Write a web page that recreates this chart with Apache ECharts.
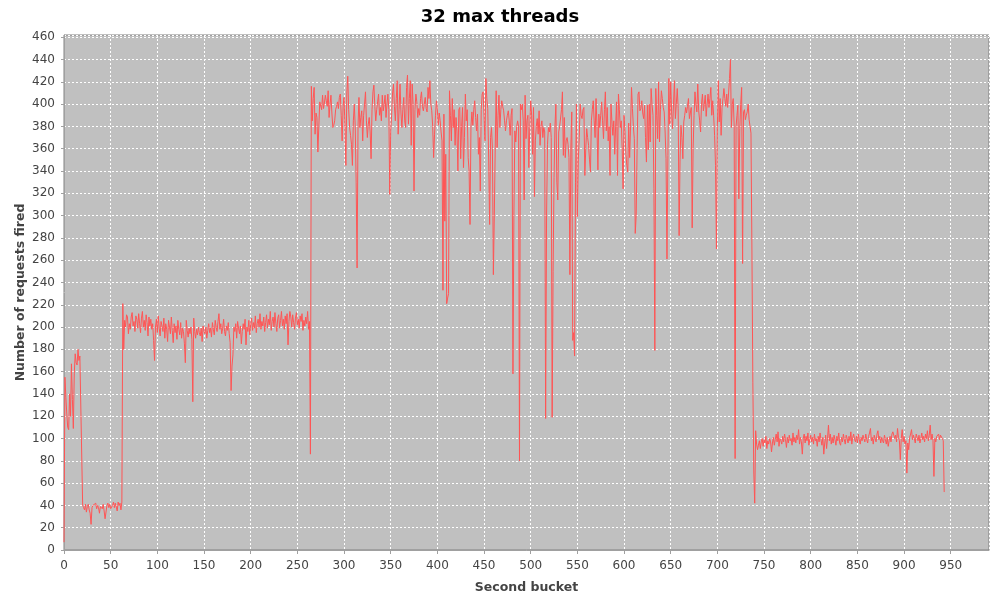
<!DOCTYPE html>
<html><head><meta charset="utf-8">
<script src="https://cdn.jsdelivr.net/npm/echarts@6/dist/echarts.min.js"></script>
<style>html,body{margin:0;padding:0;background:#fff;}#c{width:1000px;height:600px;}</style>
</head><body><div id="c"></div>
<script>
const chartTitle = '32 max threads';
const xName = 'Second bucket';
const yName = 'Number of requests fired';
// seconds 0-19
const warmup = [7,155,137,122,110,108,140,120,167,135,109,158,176,168,166,180,170,174,173,175];
// seconds 20-62
const lowPhase = [40,38,36,41,34,39,41,36,33,23, 38,40,41,39,42,37,40,38,33,39, 40,37,41,35,28,29,40,42,38,41, 37,36,40,43,38,42,41,35,43,40, 42,36,43];
// seconds 63-264
const midPhase = [221,180,
206,200,211,209,194,203,198,209,213,201,
205,196,210,207,199,212,203,195,208,214,
200,206,197,211,204,192,209,201,207,198,
203,188,170,200,207,195,210,199,192,205,
201,196,208,190,203,198,187,206,200,194,
209,197,186,203,195,201,189,206,198,193,
204,190,199,196,185,168,206,197,191,199,
194,200,189,133,208,196,190,198,193,200,
195,192,199,187,201,196,194,200,190,197,
203,195,199,191,204,198,193,206,200,196,
205,212,198,203,194,199,207,196,192,201,
197,204,194,186,143,165,175,200,196,203,
190,205,199,194,201,185,196,203,198,207,
184,200,196,206,193,202,208,197,204,199,
210,195,203,207,200,212,198,205,201,209,
196,204,211,199,207,202,214,197,205,209,
200,213,203,196,208,211,199,206,214,201,
207,198,210,203,212,184,205,214,209,200,
211,204,198,208,213,202,207,199,210,205,
212,197,206,201,209,203,214,198,205,
86];
// seconds 265-739
const highPhase = [
416,385,405,415,373,392,388,357,380,402,
403,395,408,396,401,408,403,398,412,388,
400,408,392,379,381,385,395,398,402,396,
406,409,390,367,398,406,380,345,410,425,
395,379,372,364,345,385,400,380,330,253,
380,406,379,388,394,367,390,400,411,385,
370,382,388,375,351,395,411,417,398,385,
395,402,409,390,397,385,408,394,400,408,
388,400,409,395,319,376,390,410,418,398,
385,405,421,373,395,418,392,379,395,406,
385,379,415,426,382,405,421,363,418,400,
322,395,409,402,388,396,390,405,411,398,
394,400,406,396,393,415,405,421,400,394,
380,352,373,390,403,395,381,392,385,375,
367,233,391,295,355,221,226,230,412,390,
367,405,379,395,363,388,375,340,395,397,
351,380,397,343,370,409,385,395,352,340,
292,380,393,381,395,403,388,376,391,355,
370,322,395,409,411,390,367,423,405,396,
349,292,370,379,360,247,300,361,412,361,
390,408,379,395,403,398,394,385,376,385,
390,394,385,372,390,396,158,300,376,366,
380,385,380,80,400,395,400,385,314,408,
369,385,390,343,379,403,390,355,397,317,
367,380,387,373,394,363,380,385,370,379,
375,118,300,364,379,375,383,370,119,250,
334,380,400,330,314,375,380,379,395,411,
354,388,352,367,370,364,352,247,360,393,
188,195,174,330,400,299,350,370,400,390,
387,395,397,336,360,378,370,363,350,339,
385,395,403,385,370,405,380,341,391,379,
390,402,385,369,395,411,376,397,367,380,
336,400,385,372,385,355,380,402,336,409,
395,379,385,360,324,390,375,355,345,339,
383,352,380,415,396,380,369,284,300,360,
409,411,394,396,403,392,387,399,370,348,
399,359,400,366,414,400,390,324,179,414,
390,369,420,366,395,412,405,397,393,375,
351,261,354,423,382,420,392,378,400,421,
387,400,414,396,282,350,381,370,351,384,
390,397,392,398,405,387,392,397,289,360,
390,411,400,393,418,394,385,375,400,409,
394,400,408,389,400,409,397,405,415,390,
403,390,372,345,270,380,421,384,405,372,
397,405,414,405,398,409,397,410,423,440,
379,400,405,380,82,380,390,399,315,378,
400,415,257,393,395,386,390,393,400,386,
380,374,270,150,70];
// seconds 740-943
const tailPhase = [42,107,95,90,94,98,91,97,100,
93,99,96,102,91,98,95,100,97,88,
96,101,94,99,104,97,106,93,100,98,
95,102,97,104,99,92,101,96,103,98,
100,94,105,97,101,96,103,99,108,95,
101,97,86,100,104,96,102,98,105,94,
99,103,97,101,95,104,98,100,93,102,
97,105,99,94,101,86,96,103,91,100,
112,98,104,95,101,96,103,99,94,102,
98,105,96,94,101,97,104,99,95,103,
100,96,102,98,106,95,101,104,99,97,
102,96,104,99,95,101,98,103,100,97,
104,99,96,102,105,109,98,101,95,103,
100,97,104,107,99,102,96,101,98,96,
103,99,95,101,93,98,102,97,104,106,
106,100,103,97,109,101,98,81,100,108,
97,102,95,98,69,96,90,101,104,108,
99,103,100,96,104,101,98,103,96,100,
105,99,102,97,104,100,107,98,103,112,
99,104,98,66,100,97,102,101,104,99,
103,102,100,98,52];
const xTicks = [0,50,100,150,200,250,300,350,400,450,500,550,600,650,700,750,800,850,900,950];
const yTicks = [0,20,40,60,80,100,120,140,160,180,200,220,240,260,280,300,320,340,360,380,400,420,440,460];

const values = [].concat(warmup, lowPhase, midPhase, highPhase, tailPhase);
const seriesData = values.map((v, i) => [i, v]);

const chart = echarts.init(document.getElementById('c'), null, {renderer: 'canvas'});
const tickFont = {fontFamily: 'DejaVu Sans', fontSize: 12, color: '#444444'};
const nameFont = {fontFamily: 'DejaVu Sans', fontWeight: 'bold', fontSize: 12.5, color: '#444444'};
chart.setOption({
  animation: false,
  backgroundColor: '#ffffff',
  title: {
    text: chartTitle, left: 'center', top: 3,
    textStyle: {fontFamily: 'DejaVu Sans', fontWeight: 'bold', fontSize: 18, color: '#000000'}
  },
  grid: {
    left: 64, right: 11, top: 35, bottom: 50,
    show: true, backgroundColor: '#c0c0c0', borderColor: '#808080', borderWidth: 1
  },
  xAxis: {
    type: 'value', min: 0, max: 991, minInterval: 50, maxInterval: 50, offset: 4,
    name: xName, nameLocation: 'middle', nameGap: 27, nameTextStyle: nameFont,
    nameMoveOverlap: false,
    axisLine: {show: true, lineStyle: {color: '#a0a0a0', width: 1}},
    axisTick: {show: true, length: 4, lineStyle: {color: '#a0a0a0'}},
    axisLabel: Object.assign({margin: 6, showMaxLabel: false,
      formatter: v => xTicks.indexOf(v) >= 0 ? String(v) : ''}, tickFont),
    splitLine: {show: true, lineStyle: {color: '#ffffff', type: [2, 2], width: 1}}
  },
  yAxis: {
    type: 'value', min: 0, max: 462, minInterval: 20, maxInterval: 20, offset: 4,
    name: yName, nameLocation: 'middle', nameGap: 33, nameTextStyle: nameFont,
    nameMoveOverlap: false,
    axisLine: {show: true, lineStyle: {color: '#a0a0a0', width: 1}},
    axisTick: {show: true, length: 3, lineStyle: {color: '#a0a0a0'}},
    axisLabel: Object.assign({margin: 5, showMaxLabel: false,
      formatter: v => yTicks.indexOf(v) >= 0 ? String(v) : ''}, tickFont),
    splitLine: {show: true, lineStyle: {color: '#ffffff', type: [2, 2], width: 1}}
  },
  series: [{
    type: 'line', data: seriesData, showSymbol: false, symbol: 'none',
    lineStyle: {color: '#ff5555', width: 1}, itemStyle: {color: '#ff5555'}
  }]
});
</script>
</body></html>
